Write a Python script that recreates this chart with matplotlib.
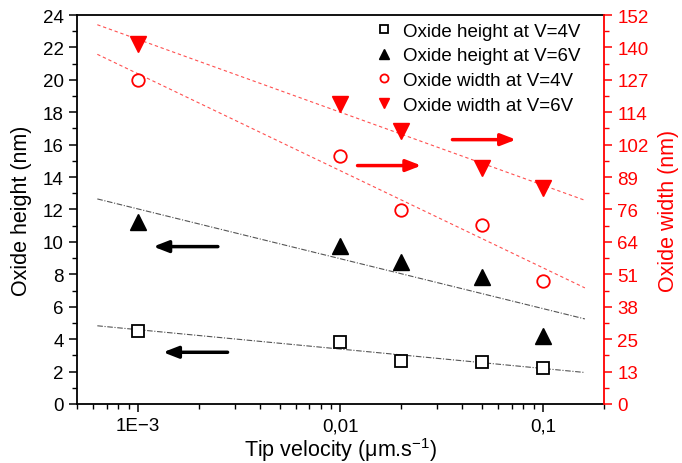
import numpy as np
import matplotlib.pyplot as plt
from matplotlib.ticker import FixedLocator, NullFormatter, MultipleLocator, LogLocator

plt.rcParams['font.family'] = ['Liberation Sans', 'DejaVu Sans']
plt.rcParams['mathtext.fontset'] = 'custom'
plt.rcParams['mathtext.rm'] = 'Liberation Sans'

# tip velocity (um/s)
velocity = [0.001, 0.01, 0.02, 0.05, 0.1]

# oxide height (nm)
height_4v = [4.5, 3.8, 2.67, 2.57, 2.2]
height_6v = [11.25, 9.73, 8.74, 7.82, 4.18]

# oxide width, plotted on the height scale (nm * 24/152)
width_4v = [20.0, 15.29, 11.99, 11.07, 7.6]
width_6v = [22.2, 18.52, 16.87, 14.57, 13.33]

width_ticks = ['0', '13', '25', '38', '51', '64', '76', '89', '102', '114', '127', '140', '152']
xtick_vals = [0.001, 0.01, 0.1]
xtick_labels = ['1E\u22123', '0,01', '0,1']

fig = plt.figure(figsize=(6.82, 4.64), dpi=100)
ax = fig.add_axes([0.1129, 0.1272, 0.7727, 0.8383])

# linear fits in log(v), drawn over a fixed span
fit_x = np.array([6.3e-4, 0.161])
def fit_line(y):
    p = np.polyfit(np.log10(velocity), y, 1)
    return np.polyval(p, np.log10(fit_x))

ax.plot(fit_x, fit_line(height_4v), color='#555555', lw=0.8, ls=(0, (5, 1.5, 1, 1.5)))
ax.plot(fit_x, fit_line(height_6v), color='#555555', lw=0.8, ls=(0, (5, 1.5, 1, 1.5)))
ax.plot(fit_x, fit_line(width_4v), color='#ff5050', lw=0.8, ls=(0, (3, 2.5)))
ax.plot(fit_x, fit_line(width_6v), color='#ff5050', lw=0.8, ls=(0, (3, 2.5)))

ax.plot(velocity, height_4v, 's', ms=8, mfc='white', mec='black', mew=1.3, ls='none',
        label='Oxide height at V=4V')
ax.plot(velocity, height_6v, '^', ms=11, color='black', ls='none',
        label='Oxide height at V=6V')
ax.plot(velocity, width_4v, 'o', ms=9, mfc='white', mec='red', mew=1.3, ls='none',
        label='Oxide width at V=4V')
ax.plot(velocity, width_6v, 'v', ms=11, color='red', ls='none',
        label='Oxide width at V=6V')

# arrows showing which axis each pair belongs to
arrows = [((2.48e-3, 9.71), (1.19e-3, 9.71), 'black'),
          ((2.77e-3, 3.19), (1.33e-3, 3.19), 'black'),
          ((0.01214, 14.71), (0.02506, 14.71), 'red'),
          ((0.0357, 16.31), (0.0736, 16.31), 'red')]
for tail, head, c in arrows:
    ax.annotate('', xy=head, xytext=tail,
                arrowprops=dict(arrowstyle='-|>,head_length=0.9,head_width=0.35',
                                lw=2.5, color=c, shrinkA=0, shrinkB=0))

ax.set_xscale('log')
ax.set_xlim(5e-4, 0.2)
ax.set_ylim(0, 24)
ax.xaxis.set_major_locator(FixedLocator(xtick_vals))
ax.set_xticklabels(xtick_labels)
ax.xaxis.set_minor_locator(LogLocator(base=10, subs=np.arange(2, 10)))
ax.xaxis.set_minor_formatter(NullFormatter())
ax.yaxis.set_major_locator(MultipleLocator(2))
ax.yaxis.set_minor_locator(MultipleLocator(1))
ax.tick_params(which='major', direction='out', length=6, width=1.1, labelsize=13.5)
ax.tick_params(which='minor', direction='out', length=3.5, width=1.0)
ax.tick_params(axis='x', which='both', top=False)
for s in ax.spines.values():
    s.set_linewidth(1.3)
ax.spines['right'].set_visible(False)

ax.set_xlabel('Tip velocity ($\\mathregular{\\mu}$m.s$^{-1}$)', fontsize=15.5, labelpad=1)
ax.set_ylabel('Oxide height (nm)', fontsize=15.5, labelpad=8)

ax2 = ax.twinx()
ax2.set_ylim(0, 152)
ax2.yaxis.set_major_locator(FixedLocator(np.arange(0, 25, 2) * 152 / 24))
ax2.set_yticklabels(width_ticks)
ax2.yaxis.set_minor_locator(FixedLocator(np.arange(1, 24, 2) * 152 / 24))
ax2.tick_params(which='major', direction='out', length=6, width=1.1, labelsize=13.5,
                colors='red')
ax2.tick_params(which='minor', direction='out', length=3.5, width=1.0, colors='red')
for name, s in ax2.spines.items():
    s.set_visible(name == 'right')
ax2.spines['right'].set_color('red')
ax2.spines['right'].set_linewidth(1.3)
ax2.set_ylabel('Oxide width (nm)', fontsize=15.5, color='red', labelpad=7)

ax.legend(loc='upper right', bbox_to_anchor=(0.969, 1.0), frameon=False, fontsize=13.5,
          markerscale=0.65, handlelength=1.0, handletextpad=0.5, labelspacing=0.4,
          borderaxespad=0.0, numpoints=1)

fig.savefig('out.png', dpi=100)
